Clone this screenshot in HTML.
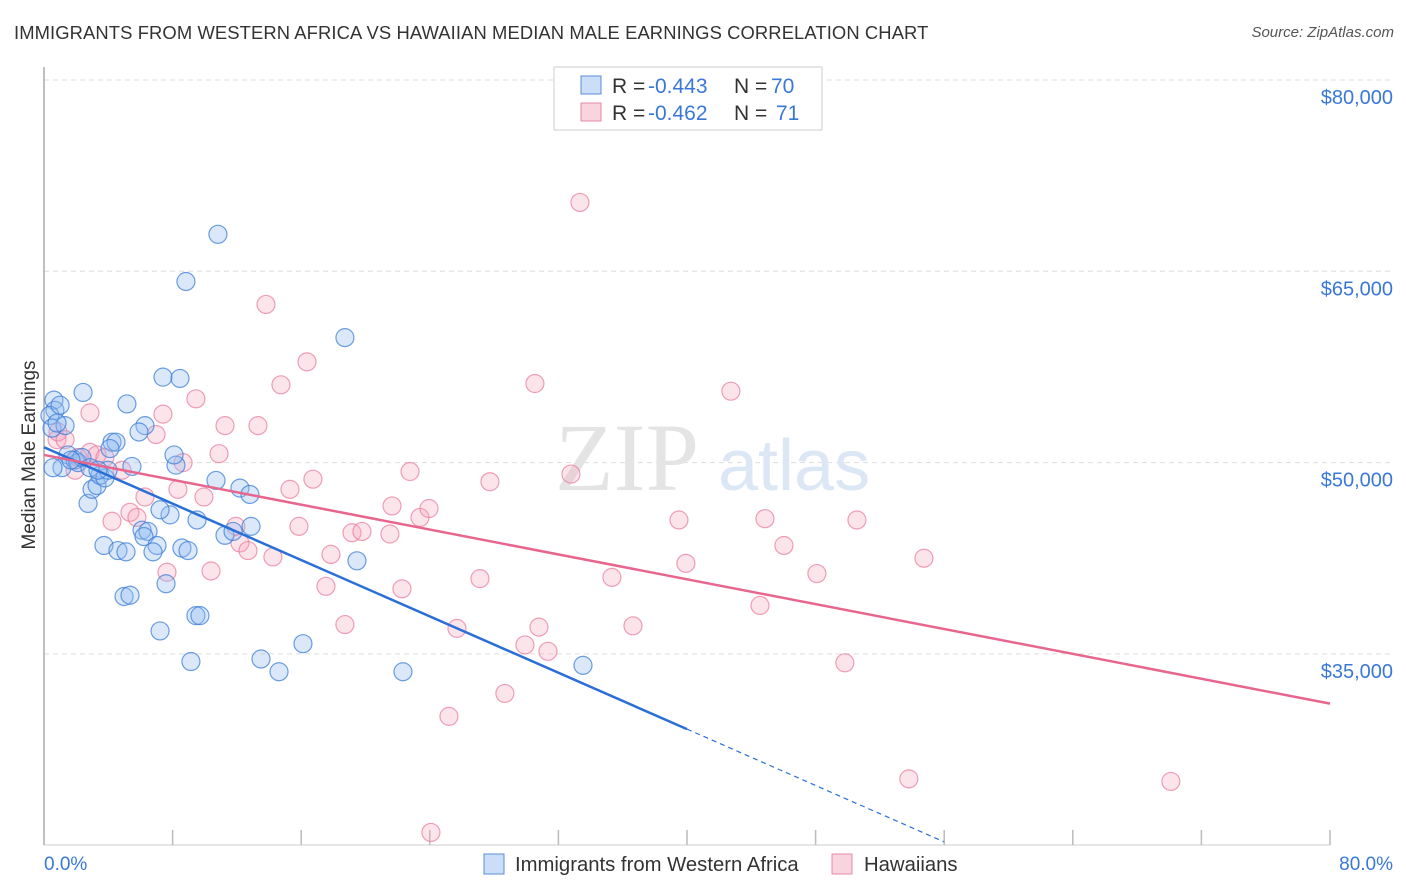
<!DOCTYPE html>
<html><head><meta charset="utf-8"><style>
body{margin:0;background:#fff;font-family:"Liberation Sans",sans-serif;}
#wrap{position:relative;width:1406px;height:892px;overflow:hidden;}
.title{position:absolute;left:14px;top:22px;font-size:18.4px;color:#333;letter-spacing:0.1px}
.source{position:absolute;right:12px;top:24px;font-size:15px;color:#555;font-style:italic}
</style></head><body>
<div id="wrap">
<div class="title">IMMIGRANTS FROM WESTERN AFRICA VS HAWAIIAN MEDIAN MALE EARNINGS CORRELATION CHART</div>
<div class="source">Source: ZipAtlas.com</div>
<svg id="chart" width="1406" height="892" style="position:absolute;left:0;top:0"></svg>
</div>
<script>
const yTicks=[80,65,50,35];
const yTickLabels=["$80,000","$65,000","$50,000","$35,000"];
const xTicks=[0,8,16,24,32,40,48,56,64,72,80];
const blueX=[0.62,0.68,0.37,0.50,1.31,1.00,1.49,1.12,1.93,2.11,2.36,2.74,2.99,3.30,3.48,3.79,3.98,4.23,4.48,4.10,2.43,5.16,5.47,6.28,5.91,3.73,4.60,5.10,4.98,5.35,6.10,6.47,6.22,7.03,6.78,7.59,7.22,7.84,8.21,8.09,7.40,8.46,8.83,9.52,8.58,8.96,9.45,9.70,9.14,10.82,10.70,11.26,11.76,12.19,12.81,12.88,13.50,14.62,16.11,18.72,19.47,22.33,33.53,0.56,1.68,2.86,0.81,3.36,7.22];
const blueY=[54.9,54.1,53.7,52.7,52.9,54.5,50.6,49.6,50.2,50.0,50.4,46.8,47.9,48.2,49.0,48.8,49.4,51.6,51.6,51.1,55.5,54.6,49.7,52.9,52.4,43.5,43.1,43.0,39.5,39.6,44.7,44.6,44.2,43.5,43.0,40.5,36.8,45.9,49.8,50.6,56.7,56.6,64.2,45.5,43.3,43.1,38.0,38.0,34.4,67.9,48.6,44.3,44.6,48.0,47.5,45.0,34.6,33.6,35.8,59.8,42.3,33.6,34.1,49.6,50.2,49.6,53.1,49.4,46.3];
const pinkX=[0.81,0.87,1.31,2.86,1.93,2.11,3.30,3.79,4.85,2.86,4.23,5.35,5.78,6.28,6.97,7.40,7.65,8.33,8.65,9.45,9.95,10.39,10.89,11.26,11.94,12.19,12.69,13.31,13.81,14.24,14.74,15.30,15.86,16.36,16.73,17.54,17.85,18.72,19.16,19.78,21.52,21.65,22.27,22.77,23.39,23.95,24.07,25.19,25.69,27.12,27.74,28.67,29.92,30.54,30.79,31.35,32.78,33.34,35.33,36.64,39.50,39.93,42.73,44.54,44.85,46.03,48.08,49.82,50.57,53.80,54.74,70.10];
const pinkY=[51.8,52.4,51.8,50.8,49.4,50.4,50.6,50.4,49.4,53.9,45.4,46.1,45.7,47.3,52.2,53.8,41.4,47.9,50.0,55.0,47.3,41.5,50.7,52.9,45.0,43.7,43.1,52.9,62.4,42.6,56.1,47.9,45.0,57.9,48.7,40.3,42.8,37.3,44.5,44.6,44.4,46.6,40.1,49.3,45.7,46.4,21.0,30.1,37.0,40.9,48.5,31.9,35.7,56.2,37.1,35.2,49.1,70.4,41.0,37.2,45.5,42.1,55.6,38.8,45.6,43.5,41.3,34.3,45.5,25.2,42.5,25.0];
const blueTrend=[51.2,-0.5525];
const pinkTrend=[50.6,-0.24375];
const NS="http://www.w3.org/2000/svg";
const svg=document.getElementById('chart');
const X=v=>44+v*(1286/80);
const Y=v=>80+(80-v)*12.753;
function mk(t,a,parent){const e=document.createElementNS(NS,t);for(const k in a)e.setAttribute(k,a[k]);(parent||svg).appendChild(e);return e;}
yTicks.forEach((t,i)=>{
 const g=mk('line',{x1:44,x2:1393,y1:Y(t),y2:Y(t),stroke:'#ddd','stroke-dasharray':'5,4'});
 
 
 const l=mk('text',{x:1393,y:Y(t)+24,'text-anchor':'end','font-size':20,fill:'#3a78d8','font-family':'Liberation Sans, sans-serif'});
 l.textContent=yTickLabels[i];
 
 
});
const ax=mk('line',{x1:44,x2:44,y1:67,y2:845,stroke:'#aaa','stroke-width':1.5});


const bx=mk('line',{x1:44,x2:1330,y1:845,y2:845,stroke:'#ccc','stroke-width':1});


xTicks.forEach(t=>{
 const k=mk('line',{x1:X(t),x2:X(t),y1:830,y2:845,stroke:'#bbb','stroke-width':1.5});
 
 
});
const xl0=mk('text',{x:44,y:870,'font-size':19,fill:'#3a78d8'});xl0.textContent='0.0%';


const xl1=mk('text',{x:1393,y:870,'font-size':19,fill:'#3a78d8','text-anchor':'end'});xl1.textContent='80.0%';


const yt=mk('text',{x:0,y:0,'font-size':19,fill:'#333','text-anchor':'middle',transform:'translate(35,455) rotate(-90)'});yt.textContent='Median Male Earnings';


const wm=mk('text',{x:555,y:490,'font-size':96,fill:'#e4e4e4','font-family':'Liberation Serif, serif'});wm.textContent='ZIP';


const wm2=mk('text',{x:718,y:490,'font-size':72,fill:'#dce7f5'});wm2.textContent='atlas';


function pts(xs,ys,fill,stroke,name){xs.forEach((x,i)=>{
 const c=mk('circle',{cx:X(x),cy:Y(ys[i]),r:9,fill:fill,stroke:stroke,'stroke-width':1.2});
 
 
});}
pts(pinkX,pinkY,'rgba(244,167,190,0.3)','rgba(232,120,155,0.7)','hawaiian-point');
pts(blueX,blueY,'rgba(150,190,240,0.35)','rgba(60,125,215,0.75)','western-africa-point');
const bt=mk('line',{x1:X(0),y1:Y(blueTrend[0]),x2:X(40),y2:Y(blueTrend[0]+blueTrend[1]*40),stroke:'#2a6fd8','stroke-width':2.5});


const bd=mk('line',{x1:X(40),y1:Y(blueTrend[0]+blueTrend[1]*40),x2:X(56),y2:Y(blueTrend[0]+blueTrend[1]*56),stroke:'#2a6fd8','stroke-width':1.2,'stroke-dasharray':'5,4'});


const pt=mk('line',{x1:X(0),y1:Y(pinkTrend[0]),x2:X(80),y2:Y(pinkTrend[0]+pinkTrend[1]*80),stroke:'#e8668e','stroke-width':2.5});


const lg=mk('g',{});


mk('rect',{x:554,y:67,width:268,height:63,fill:'#fff',stroke:'#ccc'},lg);
mk('rect',{x:581,y:76,width:20,height:18,fill:'rgba(150,190,240,0.5)',stroke:'#5b8fd8'},lg);
mk('rect',{x:581,y:103,width:20,height:18,fill:'rgba(244,167,190,0.5)',stroke:'#e88aa8'},lg);
function lt(x,y,s,c){const t=mk('text',{x:x,y:y,'font-size':21,fill:c},lg);t.textContent=s;return t;}
lt(612,93,'R = ','#333');lt(648,93,'-0.443','#3a78d8');lt(734,93,'N = ','#333');lt(771,93,'70','#3a78d8');
lt(612,120,'R = ','#333');lt(648,120,'-0.462','#3a78d8');lt(734,120,'N = ','#333');lt(776,120,'71','#3a78d8');
const bl=mk('g',{});


mk('rect',{x:484,y:854,width:20,height:20,fill:'rgba(150,190,240,0.5)',stroke:'#5b8fd8'},bl);
const b1=mk('text',{x:515,y:871,'font-size':20.3,fill:'#333'},bl);b1.textContent='Immigrants from Western Africa';
mk('rect',{x:832,y:854,width:20,height:20,fill:'rgba(244,167,190,0.5)',stroke:'#e88aa8'},bl);
const b2=mk('text',{x:864,y:871,'font-size':20.3,fill:'#333'},bl);b2.textContent='Hawaiians';
</script>
</body></html>
